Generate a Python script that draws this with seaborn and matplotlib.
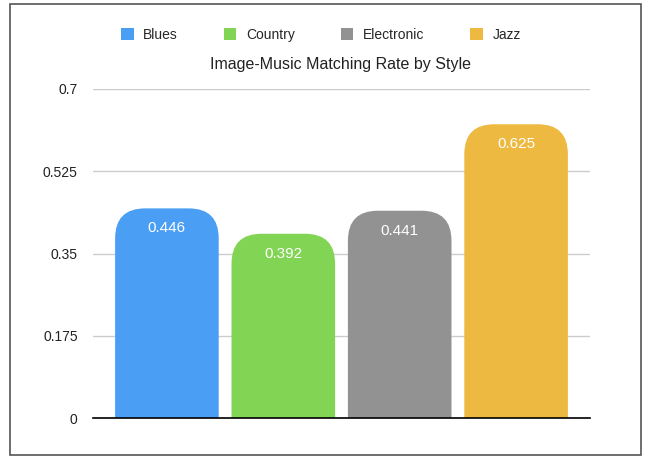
import matplotlib
matplotlib.use("Agg")
import matplotlib.pyplot as plt
import seaborn as sns
import pandas as pd
from matplotlib.patches import FancyBboxPatch, Rectangle, Patch

styles = ["Blues", "Country", "Electronic", "Jazz"]
rates = [0.446, 0.392, 0.441, 0.625]
colors = ["#4A9FF5", "#82D454", "#929292", "#EEB940"]
yticks = [0, 0.175, 0.35, 0.525, 0.7]
ytick_labels = ["0", "0.175", "0.35", "0.525", "0.7"]
title = "Image-Music Matching Rate by Style"

sns.set_theme(style="white")
plt.rcParams["font.family"] = ["Liberation Sans", "DejaVu Sans"]

df = pd.DataFrame({"style": styles, "rate": rates})

fig = plt.figure(figsize=(6.49, 4.57), dpi=100)
ax = fig.add_axes([93/649, 39/457, 497/649, 329/457])

sns.barplot(data=df, x="style", y="rate", hue="style", palette=colors,
            saturation=1, width=0.89, dodge=False, legend=False, ax=ax)

ax.set_xlim(-0.635, 3.635)
ax.set_ylim(0, 0.7)

# replace bars with top-rounded versions
xpx = 497 / 4.27
ypx = 329 / 0.7
aspect = xpx / ypx
r = 30 / xpx
patches = list(ax.patches)
for p in patches:
    x0, w, h = p.get_x(), p.get_width(), p.get_height()
    c = p.get_facecolor()
    p.remove()
    fb = FancyBboxPatch((x0, -0.2), w, h + 0.2,
                        boxstyle=f"round,pad=0,rounding_size={r}",
                        mutation_aspect=aspect, facecolor=c, edgecolor="none",
                        zorder=2, clip_on=True)
    ax.add_patch(fb)
    ax.text(x0 + w / 2, h - 20 / ypx, f"{h:.3f}", ha="center", va="center",
            color="white", fontsize=11, zorder=3)

ax.set_yticks(yticks)
ax.set_yticklabels(ytick_labels, fontsize=10, color="#222222")
ax.tick_params(axis="y", length=0, pad=11)
ax.set_xticks([])
ax.set_xlabel("")
ax.set_ylabel("")
ax.yaxis.grid(True, color="#CCCCCC", linewidth=1)
ax.set_axisbelow(True)
for s in ["top", "right", "left"]:
    ax.spines[s].set_visible(False)
ax.spines["bottom"].set_color("black")
ax.spines["bottom"].set_linewidth(1.2)
ax.spines["bottom"].set_zorder(4)

fig.text(340/649, 1 - 65/457, title, ha="center", va="center", fontsize=11.5,
         color="#222222")

handles = [Patch(facecolor=c, edgecolor="none") for c in colors]
leg = fig.legend(handles, styles, loc="center", bbox_to_anchor=(321/649, 1 - 35/457),
                 ncol=4, frameon=False, fontsize=10, handlelength=0.9,
                 handleheight=0.9, handletextpad=0.7, columnspacing=3.3)

fig.patches.append(Rectangle((10/649, 2/457), 631/649, 451/457,
                             transform=fig.transFigure, fill=False,
                             edgecolor="#555555", linewidth=1.2))

fig.savefig("out.png", dpi=100)
